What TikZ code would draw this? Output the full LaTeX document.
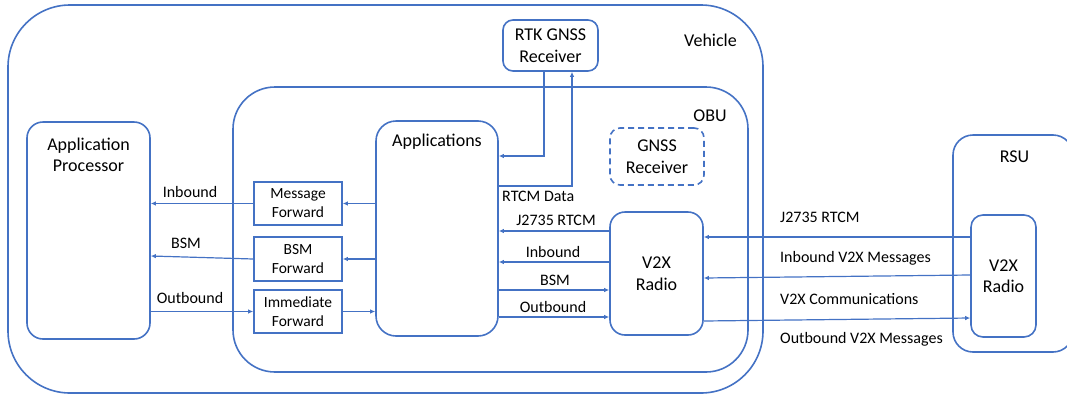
\documentclass[tikz,border=0pt]{standalone}
\usepackage{fontspec}
\setmainfont{Carlito}
\usetikzlibrary{arrows.meta}
\definecolor{bl}{HTML}{4472C4}
\begin{document}
\begin{tikzpicture}[x=1pt,y=-1pt,
  box/.style={draw=bl,line width=1.6pt,inner sep=0pt,fill=none},
  bigtxt/.style={font=\fontsize{18}{21.5}\selectfont,align=center,inner sep=0pt},
  midtxt/.style={font=\fontsize{15.5}{19}\selectfont,align=center,inner sep=0pt},
  lbl/.style={font=\fontsize{16}{18}\selectfont,inner sep=0pt},
  arr/.style={draw=bl,line width=1.2pt,-{Latex[length=5pt,width=4.5pt]}},
  ln/.style={draw=bl,line width=1.2pt}]
\useasboundingbox (0,0) rectangle (1067,394);
% containers
\node[box,rounded corners=62pt,minimum width=755pt,minimum height=388pt] (veh) at (385.5,199) {};
\node[bigtxt] (vehl) at (710.5,40) {Vehicle};
\node[box,rounded corners=42pt,minimum width=515pt,minimum height=285pt] (obu) at (490.5,229.5) {};
\node[bigtxt] (obul) at (710,116) {OBU};
\node[box,rounded corners=20pt,minimum width=120pt,minimum height=217pt] (rsu) at (1013,243.5) {};
\node[bigtxt] (rsul) at (1014.5,157) {RSU};
% boxes
\node[box,rounded corners=10pt,minimum width=95pt,minimum height=51pt,bigtxt] (rtk) at (550.5,45.5) {RTK GNSS\\Receiver};
\node[box,rounded corners=16pt,minimum width=123pt,minimum height=217pt] (ap) at (88.5,230.5) {};
\node[bigtxt] (apl) at (88.5,155) {Application\\Processor};
\node[box,rounded corners=20pt,minimum width=122pt,minimum height=215pt] (apps) at (437,228.5) {};
\node[bigtxt] (appsl) at (437,142) {Applications};
\node[box,dashed,dash pattern=on 6pt off 4pt,rounded corners=10pt,minimum width=94pt,minimum height=57pt,bigtxt] (gnss) at (657,156.5) {GNSS\\Receiver};
\node[box,minimum width=88pt,minimum height=43pt,midtxt] (mf) at (298,203.5) {Message\\Forward};
\node[box,minimum width=88pt,minimum height=44pt,midtxt] (bf) at (298,259) {BSM\\Forward};
\node[box,minimum width=88pt,minimum height=43pt,midtxt] (imf) at (298,311.5) {Immediate\\Forward};
\node[box,rounded corners=15pt,minimum width=93pt,minimum height=123pt,bigtxt] (v2x) at (656.5,273.5) {V2X\\Radio};
\node[box,rounded corners=12pt,minimum width=65pt,minimum height=122pt,bigtxt] (rv2x) at (1003.5,276) {V2X\\Radio};
% RTK connectors
\coordinate (c1) at (544,156);
\coordinate (c2) at (572,186);
\draw[arr] (rtk.south -| c1) -- (c1) -- (apps.east |- c1);
\draw[arr] (apps.east |- c2) -- (c2) -- (rtk.south -| c2);
\node[lbl,anchor=west] (rtcml) at (502,196) {RTCM Data};
% left side
\draw[arr] (apps.west |- mf.east) -- (mf.east);
\draw[arr] (mf.west) -- (ap.east |- mf.west);
\node[lbl] (inl) at (190,192) {Inbound};
\draw[arr] (apps.west |- bf.east) -- (bf.east);
\draw[arr] (bf.west) -- (ap.east |- 0,256);
\node[lbl] (bsml) at (186,243) {BSM};
\draw[arr] (ap.east |- imf.west) -- (imf.west);
\draw[arr] (imf.east) -- (apps.west |- imf.east);
\node[lbl] (outl) at (190,298) {Outbound};
% apps <-> v2x
\draw[arr] (v2x.west |- 0,231) -- (apps.east |- 0,231);
\node[lbl] (j1) at (556,220) {J2735 RTCM};
\draw[arr] (v2x.west |- 0,262) -- (apps.east |- 0,262);
\node[lbl] (in2) at (553,252) {Inbound};
\draw[arr] (apps.east |- 0,290) -- (v2x.west |- 0,290);
\node[lbl] (bsm2) at (555,280) {BSM};
\draw[arr] (apps.east |- 0,317) -- (v2x.west |- 0,317);
\node[lbl] (out2) at (553,307) {Outbound};
% v2x <-> rsu
\draw[arr] (rv2x.west |- 0,237) -- (v2x.east |- 0,237);
\node[lbl,anchor=west] (j3) at (780,217) {J2735 RTCM};
\draw[arr] (rv2x.west |- 0,275) -- (v2x.east |- 0,278);
\node[lbl,anchor=west] (ivm) at (780,258) {Inbound V2X Messages};
\draw[arr] (v2x.east |- 0,321) -- (rv2x.west |- 0,318);
\node[lbl,anchor=west] (vc) at (780,299) {V2X Communications};
\node[lbl,anchor=west] (ovm) at (780,339) {Outbound V2X Messages};
\end{tikzpicture}
\end{document}
